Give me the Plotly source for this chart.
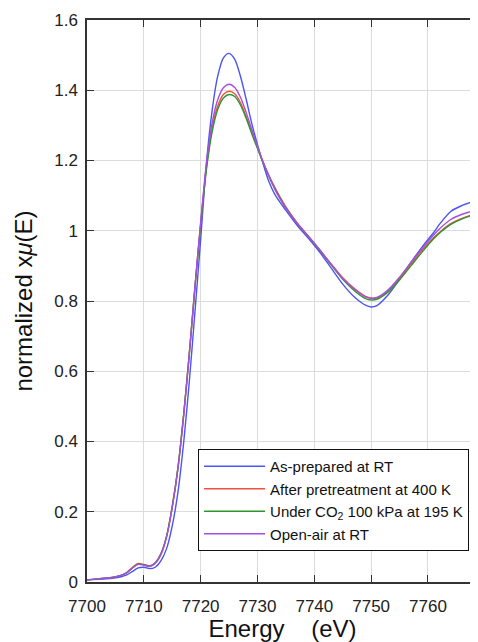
import plotly.graph_objects as go

energy = [7700, 7702, 7704, 7705, 7706, 7707, 7708, 7709, 7710, 7711, 7712, 7713, 7714, 7715,
          7716, 7717, 7718, 7719, 7720, 7721, 7722, 7723, 7724, 7725, 7726, 7727, 7728, 7729,
          7730, 7731, 7732, 7733, 7734, 7735, 7737, 7739, 7741, 7743, 7745, 7747, 7749, 7750,
          7751, 7753, 7755, 7757, 7759, 7761, 7762, 7764, 7766, 7769]

as_prepared = [0.006, 0.008, 0.010, 0.012, 0.015, 0.020, 0.030, 0.040, 0.042, 0.038, 0.042, 0.060,
               0.095, 0.160, 0.255, 0.395, 0.570, 0.770, 0.975, 1.190, 1.340, 1.440, 1.492, 1.505,
               1.488, 1.440, 1.375, 1.305, 1.245, 1.190, 1.140, 1.105, 1.080, 1.058, 1.015, 0.978,
               0.938, 0.893, 0.848, 0.812, 0.788, 0.783, 0.787, 0.818, 0.862, 0.910, 0.955, 0.995,
               1.018, 1.055, 1.072, 1.090]

after_pretreat = [0.006, 0.009, 0.012, 0.015, 0.019, 0.027, 0.042, 0.053, 0.050, 0.046, 0.055, 0.080,
                  0.130, 0.215, 0.325, 0.475, 0.650, 0.840, 1.020, 1.180, 1.290, 1.355, 1.388, 1.397,
                  1.390, 1.365, 1.325, 1.280, 1.237, 1.195, 1.158, 1.125, 1.095, 1.068, 1.022, 0.984,
                  0.945, 0.905, 0.866, 0.836, 0.813, 0.808, 0.809, 0.830, 0.865, 0.905, 0.945, 0.980,
                  0.995, 1.020, 1.035, 1.052]

under_co2 = [0.006, 0.009, 0.012, 0.015, 0.019, 0.027, 0.040, 0.051, 0.049, 0.045, 0.054, 0.080,
             0.130, 0.215, 0.325, 0.475, 0.650, 0.840, 1.015, 1.172, 1.280, 1.345, 1.378, 1.388,
             1.382, 1.358, 1.320, 1.276, 1.234, 1.193, 1.156, 1.122, 1.092, 1.065, 1.020, 0.982,
             0.943, 0.902, 0.862, 0.830, 0.807, 0.803, 0.805, 0.826, 0.860, 0.900, 0.940, 0.977,
             0.993, 1.018, 1.034, 1.050]

open_air = [0.006, 0.009, 0.012, 0.015, 0.019, 0.026, 0.040, 0.050, 0.048, 0.044, 0.053, 0.078,
            0.128, 0.212, 0.322, 0.472, 0.648, 0.842, 1.025, 1.190, 1.305, 1.373, 1.407, 1.417,
            1.408, 1.380, 1.337, 1.288, 1.240, 1.195, 1.155, 1.120, 1.090, 1.064, 1.020, 0.983,
            0.944, 0.903, 0.864, 0.834, 0.812, 0.808, 0.810, 0.832, 0.868, 0.910, 0.950, 0.988,
            1.005, 1.032, 1.047, 1.062]

names = ["As-prepared at RT", "After pretreatment at 400 K",
         "Under CO<sub>2</sub> 100 kPa at 195 K", "Open-air at RT"]
colors = ["#4a55f2", "#f2503f", "#2e962e", "#a64ee0"]
series = [as_prepared, after_pretreat, under_co2, open_air]

x_ticks = [7700, 7710, 7720, 7730, 7740, 7750, 7760]
y_ticks = [0, 0.2, 0.4, 0.6, 0.8, 1.0, 1.2, 1.4, 1.6]
y_tick_text = ["0", "0.2", "0.4", "0.6", "0.8", "1", "1.2", "1.4", "1.6"]

fig = go.Figure()
for name, col, ys in zip(names, colors, series):
    fig.add_trace(go.Scatter(x=energy, y=ys, mode="lines", name=name,
                             line=dict(color=col, width=1.4, shape="spline", smoothing=0.8)))

font_family = "Liberation Sans, Arial, sans-serif"
# page body adds an 8px offset; figure is sized so that the plot lands where the reference has it
fig.update_layout(
    width=470, height=634,
    margin=dict(l=79, r=0, t=12, b=60, autoexpand=False),
    plot_bgcolor="white", paper_bgcolor="white",
    font=dict(family=font_family, color="#222222"),
    showlegend=True,
    legend=dict(x=0.284, y=0.2367, xanchor="left", yanchor="top",
                bgcolor="white", bordercolor="#111111", borderwidth=1,
                font=dict(size=15, color="#111111", family=font_family),
                itemwidth=61),
)
fig.update_xaxes(
    range=[7700, 7768.8], tickvals=x_ticks, automargin=True,
    showgrid=True, gridcolor="#dcdcdc", gridwidth=1,
    showline=True, linecolor="#333333", linewidth=1.5, mirror="ticks",
    ticks="inside", ticklen=7, tickcolor="#333333", tickwidth=1.2,
    tickfont=dict(size=17, color="#222222"), ticklabelstandoff=8,
    title=dict(text="Energy\u00a0\u00a0\u00a0\u00a0(eV)", font=dict(size=24, color="#111111"), standoff=8),
    zeroline=False,
)
fig.update_yaxes(
    range=[0, 1.6], tickvals=y_ticks, ticktext=y_tick_text, automargin=True,
    showgrid=True, gridcolor="#dcdcdc", gridwidth=1,
    showline=True, linecolor="#333333", linewidth=1.5, mirror="ticks",
    ticks="inside", ticklen=7, tickcolor="#333333", tickwidth=1.2,
    tickfont=dict(size=17, color="#222222"), ticklabelstandoff=4,
    title=dict(text="normalized x<i>\u03bc</i>(E)", font=dict(size=24, color="#111111"), standoff=15),
    zeroline=False,
)
fig.write_html("out.html")
